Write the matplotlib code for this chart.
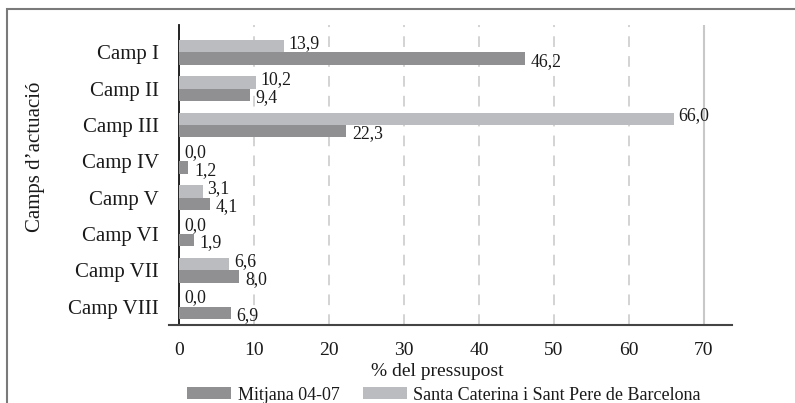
import matplotlib
matplotlib.use("Agg")
import matplotlib.pyplot as plt
from matplotlib.patches import Patch, Rectangle
import numpy as np

categories = ["Camp I", "Camp II", "Camp III", "Camp IV", "Camp V", "Camp VI", "Camp VII", "Camp VIII"]
mitjana = [46.2, 9.4, 22.3, 1.2, 4.1, 1.9, 8.0, 6.9]
santa_caterina = [13.9, 10.2, 66.0, 0.0, 3.1, 0.0, 6.6, 0.0]
series_names = ["Mitjana 04-07", "Santa Caterina i Sant Pere de Barcelona"]
xticks = [0, 10, 20, 30, 40, 50, 60, 70]

plt.rcParams['font.family'] = ['Liberation Serif', 'DejaVu Serif']

W, H = 795, 403
fig = plt.figure(figsize=(W / 100, H / 100), dpi=100)
ax = fig.add_axes([169 / W, 1 - 325 / H, (732 - 169) / W, (325 - 25) / H])

for s in ["top", "right"]:
    ax.spines[s].set_visible(False)
ax.spines["left"].set_position(("data", 0))
ax.spines["left"].set_color("#111111")
ax.spines["left"].set_linewidth(1.3)
ax.spines["bottom"].set_color("#444444")
ax.spines["bottom"].set_linewidth(1.5)
ax.set_facecolor("none")

dark = "#909093"
light = "#bbbcbf"
txt = "#1a1a1a"
y = np.arange(len(categories))
h = 0.34
ax.barh(y - h / 2, santa_caterina, height=h, color=light, zorder=3)
ax.barh(y + h / 2, mitjana, height=h, color=dark, zorder=3)

def fmt(v):
    return f"{v:.1f}".replace(".", ",")

for yi, v in zip(y, santa_caterina):
    ax.annotate(fmt(v), (v, yi - h / 2), xytext=(3.5, 2), textcoords="offset points",
                ha="left", va="center", fontsize=12.8, color=txt, zorder=4)
for yi, v in zip(y, mitjana):
    ax.annotate(fmt(v), (v, yi + h / 2), xytext=(4, -2), textcoords="offset points",
                ha="left", va="center", fontsize=12.8, color=txt, zorder=4)

ax.set_xlim(-1.4, 73.8)
ax.set_ylim(7.5, -0.75)
ax.set_xticks(xticks)
ax.set_xticklabels([str(t) for t in xticks], fontsize=14)
ax.set_yticks(y)
ax.set_yticklabels(categories, fontsize=15)
ax.tick_params(axis="both", length=0, colors=txt)
ax.tick_params(axis="x", pad=12)
ax.tick_params(axis="y", pad=15)

for t in xticks[1:-1]:
    ax.axvline(t, color="#c8c8c8", lw=1.1, linestyle=(0, (7, 6)), zorder=1)
ax.axvline(xticks[-1], color="#c8c8c8", lw=1.5, zorder=1)

fig.text(437 / W, 1 - 372 / H, "% del pressupost", ha="center", va="center",
         fontsize=14, color=txt)
fig.text(36 / W, 1 - 157 / H, "Camps d\u2019actuació", ha="center", va="center",
         rotation=90, fontsize=15, color=txt)

handles = [Patch(facecolor=dark, edgecolor="none"), Patch(facecolor=light, edgecolor="none")]
leg = fig.legend(handles, series_names, loc="center", bbox_to_anchor=(444 / W, 1 - 395 / H),
                 ncol=2, frameon=False, fontsize=13, handlelength=2.44, handleheight=0.66,
                 handletextpad=0.35, columnspacing=1.3, borderpad=0, borderaxespad=0)
for t in leg.get_texts():
    t.set_color(txt)

fig.patches.append(Rectangle((7.3 / W, -0.1), 1.2, 1.1 - 9.3 / H,
                             transform=fig.transFigure, fill=False,
                             edgecolor="#7a7a7a", lw=1.5, figure=fig))

fig.savefig("out.png", dpi=100)
